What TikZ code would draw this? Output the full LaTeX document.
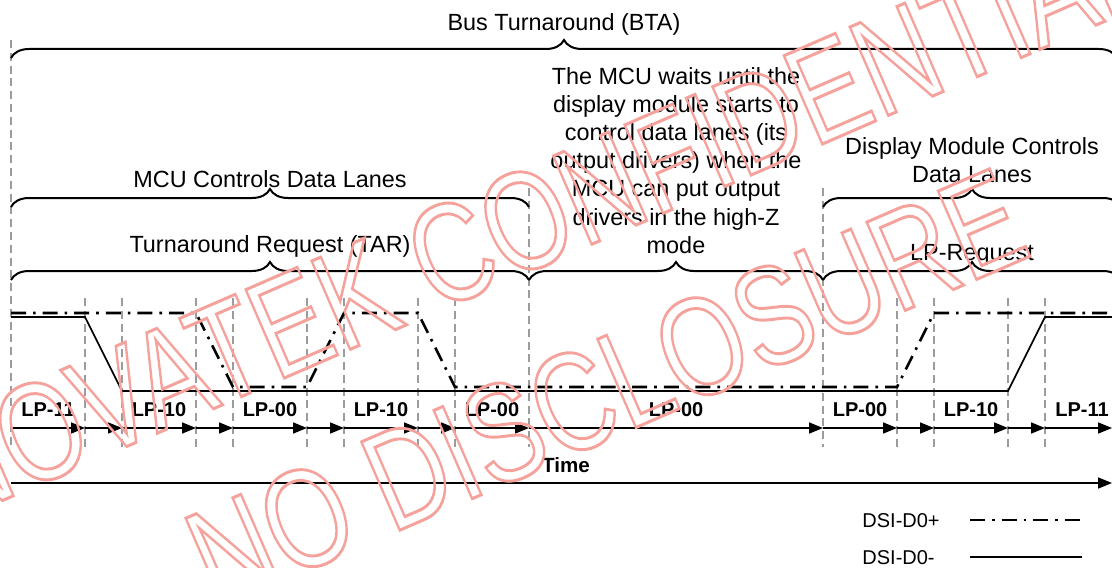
\documentclass[tikz,border=0pt]{standalone}
\usepackage{fontspec}
\setmainfont{Liberation Sans}
\usetikzlibrary{arrows.meta,decorations.pathreplacing}
\definecolor{ink}{HTML}{000000}
\definecolor{gridcol}{HTML}{9C9C9C}
\definecolor{wmred}{HTML}{F5A29C}

% outlined glyphs for the watermark
\newcommand\hollow[1]{\special{pdf:literal direct 1 Tr 1.5 w}#1\special{pdf:literal direct 0 Tr}}

\begin{document}
\begin{tikzpicture}[
  x=0.5pt, y=-0.5pt, >={Triangle[length=7pt,width=5.5pt]},
  txt/.style={font=\fontsize{11.7}{14.05}\selectfont, inner sep=0pt, align=center},
  lp/.style={font=\fontsize{10}{12}\selectfont\bfseries, anchor=base, inner sep=0pt},
  legtxt/.style={font=\fontsize{10}{12}\selectfont, anchor=base west, inner sep=0pt},
  brc/.style={ink, line width=1pt, decorate, decoration={brace, amplitude=9pt}},
  tline/.style={gridcol, line width=1.1pt, dash pattern=on 4pt off 2.4pt},
  dpos/.style={ink, line width=1.3pt, dash pattern=on 7.5pt off 3.5pt on 1.3pt off 3.5pt},
  dneg/.style={ink, line width=0.85pt},
  flow/.style={ink, line width=0.8pt, ->},
  wm/.style={text=wmred, font=\fontsize{70}{70}\selectfont, rotate=23.5, xscale=0.77, inner sep=0pt}]

\useasboundingbox (0,0) rectangle (1112,567);

% ---------------------------------------------------------------- time marks
\draw[tline] (11,40) -- (11,447);
\draw[tline] (529,188) -- (529,447);
\draw[tline] (823,188) -- (823,447);
\foreach \x in {85,122,196,233,307,344,418,455,897,934,1008,1045}
  \draw[tline] (\x,298) -- (\x,447);

% ---------------------------------------------------------------- braces
\coordinate (bta-l) at (11,58);   \coordinate (bta-r) at (1117,58);
\coordinate (mcu-l) at (11,207);  \coordinate (mcu-r) at (529,207);
\coordinate (dm-l)  at (823,207); \coordinate (dm-r)  at (1121,207);
\coordinate (tar-l) at (11,280);  \coordinate (tar-r) at (529,280);
\coordinate (lpr-l) at (823,280); \coordinate (lpr-r) at (1121,280);
\draw[brc] (bta-l) -- (bta-r);
\draw[brc] (mcu-l) -- (mcu-r);
\draw[brc] (dm-l) -- (dm-r);
\draw[brc] (tar-l) -- (tar-r);
\draw[brc] (tar-r) -- (lpr-l);
\draw[brc] (lpr-l) -- (lpr-r);

\node[txt, anchor=base] (bta) at (564,30.4) {Bus Turnaround (BTA)};
\node[txt, anchor=base] (mcu) at (270,187) {MCU Controls Data Lanes};
\node[txt, anchor=base] (tar) at (270,252) {Turnaround Request (TAR)};
\node[txt, anchor=north] (wait) at (676,67.2)
  {The MCU waits until the\\display module starts to\\control data lanes (its\\output drivers) when the\\MCU can put output\\drivers in the high-Z\\mode};
\node[txt, anchor=north] (dmc) at (972,137.2) {Display Module Controls\\Data Lanes};
\node[txt, anchor=base] (lpreq) at (972,260) {LP-Request};

% ---------------------------------------------------------------- lane signals
\draw[dneg] (11,317) -- (85,317) -- (122,391) -- (1008,391) -- (1045,317) -- (1112,317);
\draw[dpos] (11,313) -- (196,313) -- (233,387) -- (307,387) -- (344,313) -- (418,313)
  -- (455,387) -- (897,387) -- (934,313) -- (1112,313);

% states
\foreach \x/\s [count=\k] in {48/LP-11, 159/LP-10, 270/LP-00, 381/LP-10, 492/LP-00,
    676/LP-00, 860/LP-00, 971/LP-10, 1082/LP-11}
  \node[lp] (st\k) at (\x,416) {\s};

\foreach \x [count=\i from 0] in {11,85,122,196,233,307,344,418,455,529,823,897,934,1008,1045,1112}
  \coordinate (a\i) at (\x,428);
\foreach \i [evaluate=\i as \j using int(\i+1)] in {0,...,14}
  \draw[flow] (a\i) -- (a\j);

% time axis
\node[lp, font=\fontsize{10.3}{12}\selectfont\bfseries] (time) at (566,472) {Time};
\coordinate (t-l) at (11,483);
\coordinate (t-r) at (1112,483);
\draw[flow] (t-l) -- (t-r);

% ---------------------------------------------------------------- legend
\node[legtxt] (leg-p) at (862,527) {DSI-D0+};
\node[legtxt] (leg-n) at (862,564) {DSI-D0-};
\coordinate (lp-a) at (970,520); \coordinate (lp-b) at (1082,520);
\coordinate (ln-a) at (970,557); \coordinate (ln-b) at (1082,557);
\draw[dpos] (lp-a) -- (lp-b);
\draw[dneg] (ln-a) -- (ln-b);

% ---------------------------------------------------------------- watermark
\node[wm] (wm1) at (536,216) {\hollow{NOVATEK CONFIDENTIAL}};
\node[wm] (wm2) at (606,388) {\hollow{NO DISCLOSURE}};

\end{tikzpicture}
\end{document}
